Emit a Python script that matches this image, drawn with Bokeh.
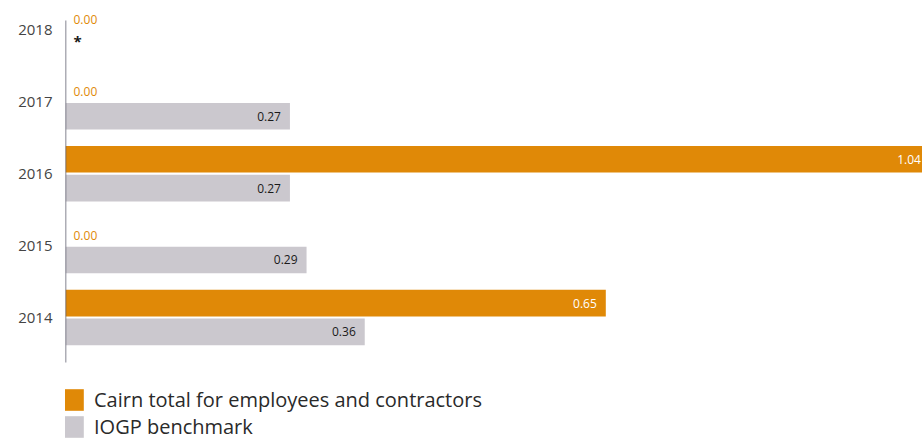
from bokeh.plotting import figure
from bokeh.models import ColumnDataSource, FixedTicker, Legend, LegendItem, Range1d
from bokeh.core.properties import value
from bokeh.embed import file_html
from bokeh.resources import INLINE

years = [2014, 2015, 2016, 2017, 2018]
cairn = [0.65, 0.00, 1.04, 0.00, 0.00]
iogp = [0.36, 0.29, 0.27, 0.27, None]
series_names = ["Cairn total for employees and contractors", "IOGP benchmark"]

ORANGE = "#E08907"
GREY = "#CBC8CE"
FONT = "Open Sans"

ppu = 71.9  # pixels per year
y_top = years[0] + 317 / ppu
y_axis_top = years[0] + 297 / ppu
y_axis_bottom = years[0] - 45 / ppu
y_bottom = years[0] - 124 / ppu

p = figure(width=922, height=441, output_backend="svg", toolbar_location=None,
           x_range=Range1d(0, 1.031), y_range=Range1d(y_bottom, y_top),
           min_border_left=65, min_border_right=0, min_border_top=0, min_border_bottom=0)
p.outline_line_color = None
p.background_fill_color = "white"
p.border_fill_color = "white"
p.xgrid.visible = False
p.ygrid.visible = False
p.xaxis.visible = False

off = 0.2
bh = 0.37
c_src = ColumnDataSource(dict(y=[y + off for y in years], v=cairn))
iy = [y - off for y, v in zip(years, iogp) if v is not None]
iv = [v for v in iogp if v is not None]
g_src = ColumnDataSource(dict(y=iy, v=iv, t=[f"{v:.2f}" for v in iv]))

r1 = p.hbar(y="y", right="v", left=0, height=bh, source=c_src, fill_color=ORANGE, line_color=None)
r2 = p.hbar(y="y", right="v", left=0, height=bh, source=g_src, fill_color=GREY, line_color=None)

# axis line (only across the bar area)
p.segment(x0=[0], y0=[y_axis_bottom], x1=[0], y1=[y_axis_top], line_color="#5d5d6d", line_width=1.5)

# value labels
cn = [(y + off, v) for y, v in zip(years, cairn) if v > 0]
p.text(x=[v for _, v in cn], y=[y for y, _ in cn], text=[f"{v:.2f}" for _, v in cn],
       text_align="right", text_baseline="middle", x_offset=-9,
       text_font=value(FONT), text_font_size="12px", text_color="white")
cz = [(y, v) for y, v in zip(years, cairn) if v == 0]
p.text(x=[v for _, v in cz], y=[y + 0.14 for y, _ in cz], text=[f"{v:.2f}" for _, v in cz],
       text_align="left", text_baseline="middle", x_offset=8,
       text_font=value(FONT), text_font_size="12px", text_color=ORANGE)
p.text(x="v", y="y", text="t", source=g_src,
       text_align="right", text_baseline="middle", x_offset=-9,
       text_font=value(FONT), text_font_size="12px", text_color="#1a1a1a")
missing = [y for y, v in zip(years, iogp) if v is None]
p.text(x=[0] * len(missing), y=[y - 0.16 for y in missing], text=["*"] * len(missing),
       text_align="left", text_baseline="middle", x_offset=8,
       text_font=value(FONT), text_font_size="15px", text_font_style="bold", text_color="#1a1a1a")

ax = p.yaxis[0]
ax.ticker = FixedTicker(ticks=years)
ax.major_label_overrides = {y: str(y) for y in years}
ax.major_tick_line_color = None
ax.minor_tick_line_color = None
ax.axis_line_color = None
ax.major_label_standoff = 7
ax.major_label_text_font = FONT
ax.major_label_text_font_size = "15px"
ax.major_label_text_color = "#444444"

legend = Legend(items=[LegendItem(label=series_names[0], renderers=[r1]),
                       LegendItem(label=series_names[1], renderers=[r2])],
                orientation="vertical", location=(-6, 1),
                glyph_width=27, glyph_height=27, spacing=0, padding=0, margin=0,
                label_text_font=FONT, label_text_font_size="20px", label_text_color="#2a2a2a",
                label_standoff=8, label_height=27, border_line_color=None, background_fill_alpha=0)
p.add_layout(legend)

open("out.html", "w").write(file_html(p, INLINE))
